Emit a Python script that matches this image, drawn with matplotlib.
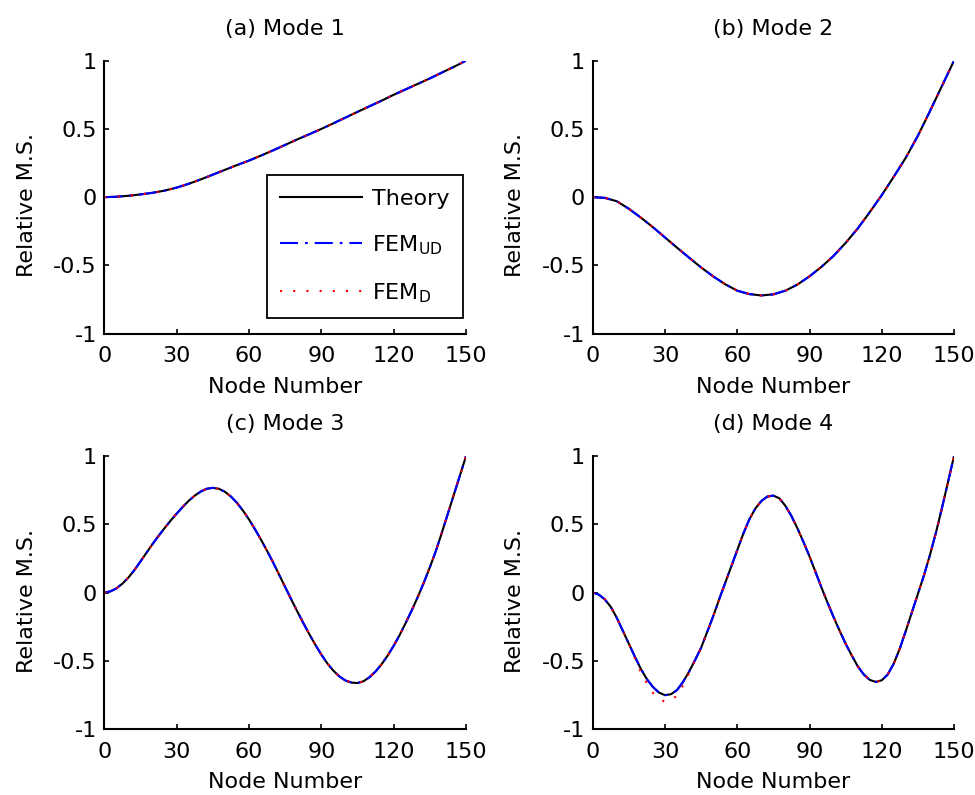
import numpy as np
import matplotlib.pyplot as plt

plt.rcParams['font.family'] = ['DejaVu Sans']
plt.rcParams['mathtext.fontset'] = 'dejavusans'
plt.rcParams['lines.scale_dashes'] = False

# node numbers where the curves were read
nodes_coarse = np.arange(0, 151, 5)     # modes 1 and 2
nodes_fine = np.arange(0, 150.1, 2.5)   # modes 3 and 4 (more wiggles)

# relative mode shapes
theory_mode1 = [0, 0.003, 0.01, 0.02, 0.032, 0.048, 0.07, 0.098, 0.13, 0.165, 0.2,
                0.235, 0.268, 0.305, 0.343, 0.383, 0.423, 0.461, 0.5, 0.541, 0.583,
                0.625, 0.666, 0.707, 0.75, 0.79, 0.83, 0.87, 0.913, 0.955, 1.0]
theory_mode2 = [0, -0.005, -0.03, -0.085, -0.15, -0.22, -0.295, -0.37, -0.443, -0.515, -0.58,
                -0.638, -0.685, -0.71, -0.72, -0.712, -0.685, -0.64, -0.58, -0.51, -0.43,
                -0.335, -0.23, -0.11, 0.015, 0.15, 0.29, 0.45, 0.63, 0.815, 1.0]
theory_mode3 = [0, 0.008, 0.03, 0.065, 0.11, 0.165, 0.228, 0.292, 0.355, 0.415,
                0.472, 0.527, 0.578, 0.627, 0.672, 0.71, 0.74, 0.76, 0.767, 0.76,
                0.738, 0.703, 0.657, 0.6, 0.535, 0.463, 0.386, 0.305, 0.22, 0.13,
                0.04, -0.05, -0.138, -0.223, -0.305, -0.383, -0.455, -0.52, -0.573, -0.615,
                -0.645, -0.66, -0.663, -0.65, -0.62, -0.578, -0.525, -0.462, -0.39, -0.31,
                -0.222, -0.13, -0.032, 0.073, 0.185, 0.305, 0.44, 0.58, 0.72, 0.86, 1.0]
theory_mode4 = [0, -0.015, -0.05, -0.105, -0.185, -0.28, -0.375, -0.47, -0.56, -0.635,
                -0.692, -0.733, -0.752, -0.745, -0.715, -0.655, -0.58, -0.495, -0.405, -0.29,
                -0.175, -0.05, 0.07, 0.19, 0.31, 0.43, 0.535, 0.615, 0.67, 0.703,
                0.71, 0.69, 0.635, 0.56, 0.47, 0.37, 0.265, 0.15, 0.035, -0.075,
                -0.18, -0.28, -0.375, -0.46, -0.54, -0.6, -0.64, -0.655, -0.643, -0.6,
                -0.52, -0.41, -0.28, -0.145, -0.01, 0.125, 0.275, 0.44, 0.62, 0.81, 1.0]

# FEM_UD sits on the theory everywhere; FEM_D drops lower at the first trough of mode 4
fem_d_mode4 = [0, -0.015, -0.05, -0.105, -0.185, -0.28, -0.375, -0.48, -0.585, -0.665,
               -0.735, -0.78, -0.8, -0.79, -0.755, -0.68, -0.59, -0.495, -0.405, -0.29,
               -0.175, -0.05, 0.07, 0.19, 0.31, 0.43, 0.535, 0.615, 0.67, 0.703,
               0.71, 0.69, 0.635, 0.56, 0.47, 0.37, 0.265, 0.15, 0.035, -0.075,
               -0.18, -0.28, -0.375, -0.46, -0.54, -0.6, -0.64, -0.655, -0.643, -0.6,
               -0.52, -0.41, -0.28, -0.145, -0.01, 0.125, 0.275, 0.44, 0.62, 0.81, 1.0]

node_sets = [nodes_coarse, nodes_coarse, nodes_fine, nodes_fine]
theory = [theory_mode1, theory_mode2, theory_mode3, theory_mode4]
fem_ud = [theory_mode1, theory_mode2, theory_mode3, theory_mode4]
fem_d = [theory_mode1, theory_mode2, theory_mode3, fem_d_mode4]

titles = ['(a) Mode 1', '(b) Mode 2', '(c) Mode 3', '(d) Mode 4']
labels = ['Theory', r'FEM$_{\mathrm{UD}}$', r'FEM$_{\mathrm{D}}$']
xticks = [0, 30, 60, 90, 120, 150]
yticks = [-1, -0.5, 0, 0.5, 1]
yticklabels = ['-1', '-0.5', '0', '0.5', '1']

fs = 16
boxes = [[0.1070, 0.5803, 0.3710, 0.3434],
         [0.6079, 0.5803, 0.3706, 0.3434],
         [0.1070, 0.0830, 0.3710, 0.3434],
         [0.6079, 0.0830, 0.3706, 0.3434]]

fig = plt.figure(figsize=(9.75, 7.95), dpi=100)
for i in range(4):
    ax = fig.add_axes(boxes[i])
    x = node_sets[i]
    ax.plot(x, theory[i], color='k', lw=1.5, label=labels[0])
    ax.plot(x, fem_ud[i], color='#0000ff', lw=1.5, dashes=(13, 5, 2, 5), label=labels[1])
    ax.plot(x, fem_d[i], color='#ff0000', lw=1.5, dashes=(1.5, 8), label=labels[2])
    ax.set_xlim(0, 150)
    ax.set_ylim(-1, 1)
    ax.set_xticks(xticks)
    ax.set_yticks(yticks)
    ax.set_yticklabels(yticklabels)
    for s in ['top', 'right']:
        ax.spines[s].set_visible(False)
    for s in ['left', 'bottom']:
        ax.spines[s].set_linewidth(1.5)
    ax.tick_params(direction='in', length=3.5, width=1.2, labelsize=fs)
    ax.tick_params(axis='x', pad=9)
    ax.tick_params(axis='y', pad=5.5)
    ax.set_title(titles[i], fontsize=fs, pad=18.5)
    ax.set_xlabel('Node Number', fontsize=fs)
    ax.set_ylabel('Relative M.S.', fontsize=fs)
    ax.xaxis.set_label_coords(0.5, -0.157)
    ax.yaxis.set_label_coords(-0.187, 0.47)
    if i == 0:
        leg = ax.legend(loc='lower right', bbox_to_anchor=(0.992, 0.0575),
                        borderaxespad=0, fontsize=fs, fancybox=False,
                        edgecolor='k', framealpha=1, handlelength=3.7,
                        handletextpad=0.45, borderpad=0.6, labelspacing=1.1)
        leg.get_frame().set_linewidth(1.3)

plt.savefig('out.png')
